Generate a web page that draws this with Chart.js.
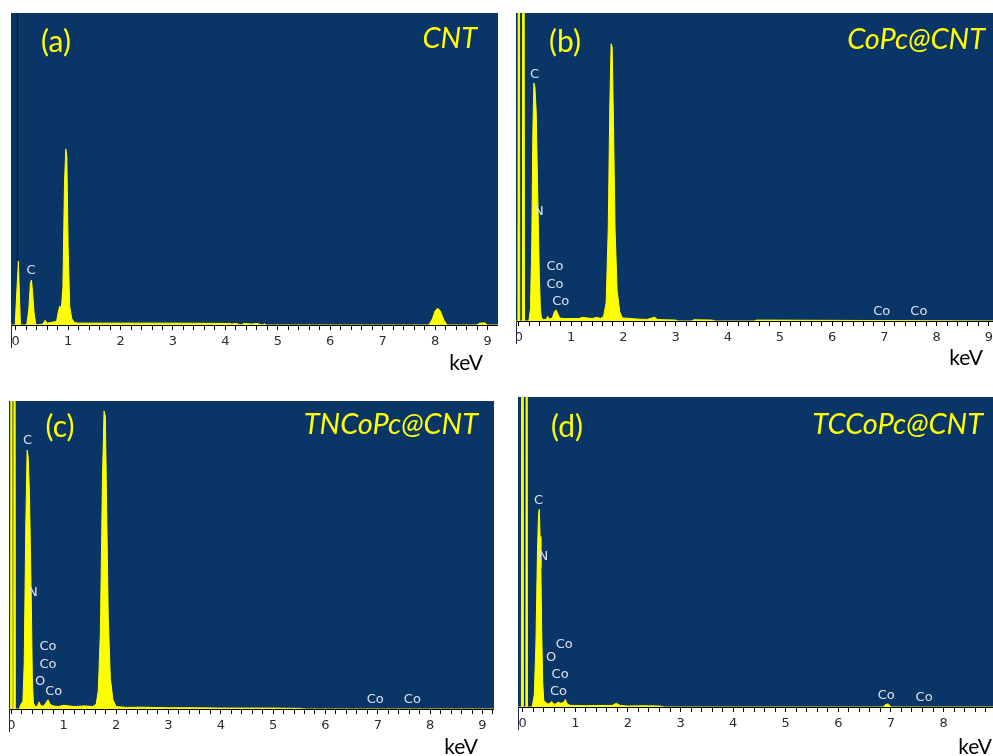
<!DOCTYPE html>
<html>
<head>
<meta charset="utf-8">
<script src="https://cdn.jsdelivr.net/npm/chart.js@4.4.0/dist/chart.umd.min.js"></script>
<style>
  html, body { margin: 0; padding: 0; background: #fff; width: 993px; height: 756px; overflow: hidden; }
  .panel { position: absolute; }
</style>
</head>
<body>
<div class="panel" style="left:11px;top:13px;width:487px;height:362px"><canvas id="a"></canvas></div>
<div class="panel" style="left:516px;top:13px;width:477px;height:358px"><canvas id="b"></canvas></div>
<div class="panel" style="left:9px;top:401px;width:485px;height:358px"><canvas id="c"></canvas></div>
<div class="panel" style="left:518px;top:397px;width:475px;height:360px"><canvas id="d"></canvas></div>
<script>
// EDS spectra, counts given as % of plot height

// (a) CNT
const keVA = [-0.09, -0.01, 0.05, 0.09, 0.21, 0.25, 0.28, 0.3, 0.32, 0.35, 0.38, 0.4, 0.52, 0.56, 0.6, 0.7, 0.78,
  0.81, 0.84, 0.87, 0.9, 0.93, 0.955, 0.975, 1.0, 1.03, 1.07, 1.12, 1.2, 2.0, 3.0, 4.1, 4.12, 4.2, 4.3, 4.35,
  4.5, 4.6, 4.7, 4.75, 4.78, 7.88, 7.95, 8.0, 8.05, 8.1, 8.17, 8.23, 8.8, 8.85, 8.95, 9.0, 9.2]
const cpsA = [0, 0, 20.5, 0, 0, 5, 13.5, 14.4, 11, 4, 0.5, 0, 0.3, 1.5, 0.6, 0.9, 1.2,
  4, 6.1, 5, 12, 45, 56.4, 54, 25, 6, 2, 0.8, 0.6, 0.6, 0.6, 0.5, 0.3, 0.5, 0, 0.5,
  0.3, 0.5, 0, 0.4, 0, 0, 2, 4.5, 5.4, 4.5, 1.5, 0, 0, 0.6, 0.7, 0, 0]
const markerKeVA = 0.03

// (b) CoPc@CNT
const keVB = [-0.06, -0.02, 0.0, 0.015, 0.065, 0.085, 0.105, 0.19, 0.22, 0.245, 0.265, 0.285, 0.305, 0.33, 0.35,
  0.37, 0.39, 0.41, 0.43, 0.47, 0.52, 0.55, 0.58, 0.64, 0.68, 0.71, 0.74, 0.78, 0.85, 1.0, 1.15, 1.22, 1.3,
  1.4, 1.5, 1.56, 1.62, 1.67, 1.71, 1.74, 1.765, 1.785, 1.81, 1.84, 1.88, 1.93, 1.98, 2.3, 2.45, 2.6, 2.65,
  2.8, 3.0, 3.05, 3.3, 3.35, 3.7, 3.75, 4.5, 4.55, 9.1]
const cpsB = [0, 0, 400, 0, 0, 400, 0, 0, 4, 25, 60, 77.3, 76, 68, 50,
  32, 15, 4, 1, 0.5, 0.5, 1.5, 0.6, 1, 3, 3.6, 2.5, 1, 0.8, 0.8, 0.8, 1.2, 1,
  0.8, 1.2, 0.8, 1.5, 6, 30, 70, 90, 89, 65, 30, 10, 3, 1, 0.6, 0.5, 1.2, 0.5,
  0.4, 0.3, 0, 0, 0.4, 0.3, 0, 0, 0.3, 0]

// (c) TNCoPc@CNT
const keVC = [-0.05, -0.015, 0.0, 0.015, 0.045, 0.06, 0.075, 0.15, 0.18, 0.22, 0.245, 0.275, 0.3, 0.32, 0.345, 0.365,
  0.38, 0.4, 0.42, 0.45, 0.5, 0.53, 0.56, 0.62, 0.66, 0.7, 0.74, 0.8, 0.9, 1.0, 1.1, 1.2, 1.4, 1.55, 1.62,
  1.66, 1.7, 1.74, 1.77, 1.795, 1.82, 1.85, 1.89, 1.94, 2.0, 2.2, 2.5, 2.7, 3.0, 3.5, 4.0, 4.5, 5.0, 5.5, 5.6, 9.3]
const cpsC = [0, 0, 400, 0, 0, 400, 0, 0, 1.5, 2.5, 15, 60, 84, 82, 70, 50,
  35, 10, 2, 0.8, 1, 2.3, 1, 1, 2, 3, 1.5, 1, 0.8, 1.2, 1, 0.8, 1, 0.8, 1.5,
  6, 25, 75, 96.7, 95, 65, 30, 10, 3, 0.8, 0.5, 0.6, 0.5, 0.4, 0.4, 0.3, 0.3, 0.3, 0.2, 0, 0]

// (d) TCCoPc@CNT
const keVD = [-0.09, -0.025, -0.01, 0.005, 0.06, 0.075, 0.09, 0.18, 0.22, 0.25, 0.28, 0.3, 0.315, 0.33, 0.345,
  0.36, 0.38, 0.4, 0.44, 0.47, 0.52, 0.55, 0.58, 0.63, 0.67, 0.72, 0.78, 0.81, 0.84, 0.9, 1.0, 1.2, 1.4, 1.7,
  1.78, 1.85, 2.0, 2.3, 2.6, 2.7, 6.85, 6.9, 6.95, 7.0, 9.0]
const cpsD = [0, 0, 400, 0, 0, 400, 0, 0, 4, 20, 50, 62, 63.8, 55, 45,
  25, 8, 2, 1.5, 1, 1.2, 1.8, 1, 1, 1.6, 1.2, 1.5, 2.4, 1.2, 0.5, 0.5, 0.4, 0.5, 0.5,
  1.2, 0.5, 0.3, 0.4, 0.3, 0, 0, 0.8, 1, 0, 0]

// element tags: text, keV position, height (% of plot)
const tagTextA = ['C']
const tagKeVA = [0.29]
const tagLevelA = [17.3]
const tagTextB = ['C', 'N', 'Co', 'Co', 'Co', 'Co', 'Co']
const tagKeVB = [0.30, 0.38, 0.69, 0.69, 0.80, 6.95, 7.66]
const tagLevelB = [79.9, 35.4, 17.5, 11.7, 6.2, 2.9, 2.9]
const tagTextC = ['C', 'N', 'Co', 'Co', 'O', 'Co', 'Co', 'Co']
const tagKeVC = [0.31, 0.41, 0.70, 0.70, 0.55, 0.81, 6.95, 7.66]
const tagLevelC = [87, 37.7, 20.1, 14.4, 8.9, 5.6, 2.9, 2.9]
const tagTextD = ['C', 'N', 'Co', 'O', 'Co', 'Co', 'Co', 'Co']
const tagKeVD = [0.30, 0.39, 0.79, 0.54, 0.71, 0.68, 6.91, 7.63]
const tagLevelD = [66.7, 48.5, 20, 15.8, 10.4, 4.8, 3.7, 2.9]

// axis ticks every 0.2 keV, labelled on whole keV
const TICKS = Array.from({ length: 47 }, (_, i) => i / 5)

const BG = '#0a3567'
const YELLOW = '#ffff00'
const TITLE_FONT = "Lato, 'Open Sans', sans-serif"

const deco = {
  id: 'deco',
  beforeDraw(chart) {
    const { ctx, chartArea: a } = chart
    ctx.save()
    ctx.fillStyle = BG
    ctx.fillRect(a.left, a.top, a.right - a.left, a.bottom - a.top)
    ctx.restore()
  },
  afterDraw(chart) {
    const { ctx, chartArea: a, scales } = chart
    const o = chart.options.plugins.deco
    ctx.save()
    // left edge line below the axis
    ctx.strokeStyle = '#1c2a4a'
    ctx.lineWidth = 1
    ctx.beginPath()
    ctx.moveTo(a.left + 0.5, a.bottom)
    ctx.lineTo(a.left + 0.5, a.bottom + 23)
    ctx.stroke()

    // element tags
    ctx.fillStyle = '#dce3ec'
    ctx.font = "13px 'DejaVu Sans', sans-serif"
    ctx.textAlign = 'center'
    ctx.textBaseline = 'middle'
    o.tags.text.forEach((t, i) => {
      ctx.fillText(t, scales.x.getPixelForValue(o.tags.keV[i]), scales.y.getPixelForValue(o.tags.level[i]))
    })

    // panel letter and sample name
    ctx.fillStyle = YELLOW
    ctx.font = '30px ' + TITLE_FONT
    ctx.fillText(o.letter, a.left + o.letterPos[0], a.top + o.letterPos[1])
    ctx.font = 'italic 29px ' + TITLE_FONT
    ctx.textAlign = 'right'
    ctx.fillText(o.name, a.right - o.namePos[0], a.top + o.namePos[1])

    // unit
    ctx.fillStyle = '#000'
    ctx.font = '21px ' + TITLE_FONT
    ctx.fillText('keV', a.right - o.unitPos[0], a.bottom + o.unitPos[1])
    ctx.restore()
  }
}

function spectrum(id, keV, cps, tags, o) {
  const datasets = [{
    data: keV.map((x, i) => ({ x, y: cps[i] })),
    borderColor: YELLOW,
    backgroundColor: YELLOW,
    borderWidth: 1,
    fill: 'origin',
    pointRadius: 0,
    tension: 0,
  }]
  if (o.marker !== undefined) {
    datasets.push({
      data: [{ x: o.marker, y: 0 }, { x: o.marker, y: 100 }],
      borderColor: '#111',
      borderWidth: 1,
      fill: false,
      pointRadius: 0,
    })
  }
  return new Chart(document.getElementById(id), {
    type: 'line',
    data: { datasets },
    options: {
      responsive: true,
      maintainAspectRatio: false,
      animation: false,
      layout: { padding: 0 },
      plugins: {
        legend: { display: false },
        tooltip: { enabled: false },
        deco: { tags, letter: o.letter, name: o.name, letterPos: o.letterPos, namePos: o.namePos, unitPos: o.unitPos },
      },
      scales: {
        x: {
          type: 'linear',
          min: o.min,
          max: o.max,
          afterBuildTicks: s => { s.ticks = TICKS.filter(v => v >= o.min && v <= o.max).map(v => ({ value: v })) },
          afterFit: s => { s.height = 50; s.paddingLeft = 0; s.paddingRight = 0 },
          grid: { drawOnChartArea: false, color: '#000', tickLength: 5 },
          border: { color: '#000', width: 1 },
          ticks: {
            autoSkip: false,
            maxRotation: 0,
            padding: 4,
            color: '#352a2a',
            font: { family: "'DejaVu Sans', sans-serif", size: 13 },
            callback: v => Number.isInteger(v) ? String(v) : '',
          },
        },
        y: { display: false, min: 0, max: 100 },
      },
    },
    plugins: [deco],
  })
}

spectrum('a', keVA, cpsA, { text: tagTextA, keV: tagKeVA, level: tagLevelA },
  { min: -0.09, max: 9.2, letter: '(a)', name: 'CNT', marker: markerKeVA, letterPos: [45, 29], namePos: [21, 26], unitPos: [15, 38] })
spectrum('b', keVB, cpsB, { text: tagTextB, keV: tagKeVB, level: tagLevelB },
  { min: -0.057, max: 9.08, letter: '(b)', name: 'CoPc@CNT', letterPos: [49, 29], namePos: [8, 27], unitPos: [10, 37] })
spectrum('c', keVC, cpsC, { text: tagTextC, keV: tagKeVC, level: tagLevelC },
  { min: -0.046, max: 9.22, letter: '(c)', name: 'TNCoPc@CNT', letterPos: [51, 26], namePos: [16, 24], unitPos: [16, 38] })
spectrum('d', keVD, cpsD, { text: tagTextD, keV: tagKeVD, level: tagLevelD },
  { min: -0.09, max: 8.94, letter: '(d)', name: 'TCCoPc@CNT', letterPos: [49, 30], namePos: [10, 28], unitPos: [1, 40] })
</script>
</body>
</html>
